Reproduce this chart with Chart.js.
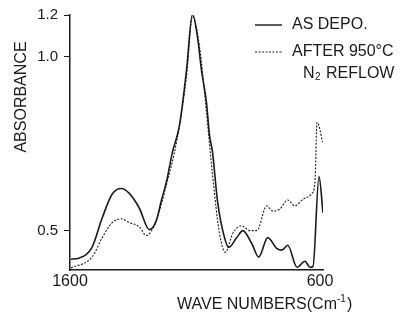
<!DOCTYPE html>
<html>
<head>
<meta charset="utf-8">
<script src="https://cdn.jsdelivr.net/npm/chart.js@4"></script>
<style>
	html, body { margin: 0; padding: 0; background: #fff; }
	#wrap { width: 406px; height: 320px; position: relative; }
</style>
</head>
<body>
<div id="wrap"><canvas id="chart"></canvas></div>
<script>
// values (wave number in cm-1, absorbance)
const asDepoWave = [1597, 1564, 1512, 1471, 1431, 1395, 1363, 1323, 1283, 1255, 1235, 1214, 1190, 1162, 1134, 1110, 1090, 1074, 1054, 1042, 1030, 1010, 982, 965, 933, 909, 873, 845, 809, 773, 753, 729, 692, 660, 640, 628, 604, 588]
const asDepoAbs = [0.418, 0.421, 0.452, 0.537, 0.605, 0.621, 0.607, 0.565, 0.503, 0.528, 0.585, 0.641, 0.726, 0.802, 0.96, 1.121, 1.056, 0.96, 0.867, 0.774, 0.726, 0.585, 0.48, 0.452, 0.48, 0.5, 0.463, 0.424, 0.48, 0.449, 0.444, 0.458, 0.395, 0.412, 0.395, 0.397, 0.655, 0.551]

const reflowWave = [1596, 1512, 1471, 1431, 1395, 1363, 1323, 1295, 1255, 1214, 1174, 1134, 1110, 1082, 1054, 1030, 1002, 978, 949, 913, 881, 853, 813, 789, 761, 729, 700, 668, 632, 620, 612, 604, 590]
const reflowAbs = [0.393, 0.424, 0.48, 0.523, 0.534, 0.523, 0.511, 0.486, 0.528, 0.633, 0.754, 0.944, 1.116, 1.028, 0.839, 0.661, 0.492, 0.438, 0.492, 0.514, 0.5, 0.5, 0.571, 0.556, 0.562, 0.588, 0.571, 0.59, 0.607, 0.64, 0.811, 0.8, 0.754]

const xTickValues = [1600, 600]
const xTickLabels = ['1600', '600']
const yTickValues = [0.5, 1.0, 1.119]
const yTickLabels = ['0.5', '1.0', '1.2']

const seriesNames = ['AS DEPO.', 'AFTER 950°C']

const toPoints = (xs, ys) => xs.map((x, i) => ({ x: x, y: ys[i] }))

const FONT = '"Liberation Sans", Arial, sans-serif'
const INK = '#1a1a1a'

// hand drawn style labels: legend and axis titles
const annotations = {
	id: 'annotations',
	afterDraw(chart) {
		const ctx = chart.ctx
		ctx.save()
		ctx.fillStyle = INK
		ctx.strokeStyle = INK
		ctx.font = '16px ' + FONT
		ctx.textBaseline = 'middle'

		// legend
		ctx.lineWidth = 1.4
		ctx.setLineDash([])
		ctx.beginPath()
		ctx.moveTo(255, 25)
		ctx.lineTo(282, 25)
		ctx.stroke()
		ctx.lineWidth = 1
		ctx.setLineDash([2, 1.5])
		ctx.beginPath()
		ctx.moveTo(255, 52)
		ctx.lineTo(282, 52)
		ctx.stroke()
		ctx.setLineDash([])
		ctx.fillText(seriesNames[0], 292, 25)
		ctx.fillText(seriesNames[1], 292, 52)
		ctx.fillText('N', 303, 74)
		ctx.font = '10px ' + FONT
		ctx.fillText('2', 315, 77)
		ctx.font = '16px ' + FONT
		ctx.fillText('REFLOW', 326, 74)

		// x title
		ctx.textAlign = 'left'
		const t = 'WAVE NUMBERS(Cm'
		ctx.fillText(t, 177, 305)
		const w = ctx.measureText(t).width
		ctx.font = '10px ' + FONT
		ctx.fillText('-1', 177 + w, 299)
		const w2 = ctx.measureText('-1').width
		ctx.font = '16px ' + FONT
		ctx.fillText(')', 177 + w + w2 + 1, 305)

		// y title
		ctx.translate(22, 97)
		ctx.rotate(-Math.PI / 2)
		ctx.textAlign = 'center'
		ctx.fillText('ABSORBANCE', 0, 0)
		ctx.restore()
	},
}

new Chart(document.getElementById('chart'), {
	type: 'line',
	data: {
		datasets: [
			{
				label: seriesNames[0],
				data: toPoints(asDepoWave, asDepoAbs),
				borderColor: INK,
				borderWidth: 1.6,
				pointRadius: 0,
				cubicInterpolationMode: 'monotone',
			},
			{
				label: seriesNames[1],
				data: toPoints(reflowWave, reflowAbs),
				borderColor: INK,
				borderWidth: 1.1,
				borderDash: [2, 1.5],
				pointRadius: 0,
				cubicInterpolationMode: 'monotone',
			},
		],
	},
	options: {
		responsive: true,
		maintainAspectRatio: false,
		animation: false,
		layout: { padding: { left: 0, right: 83, top: 11, bottom: 0 } },
		plugins: {
			legend: { display: false },
			tooltip: { enabled: false },
		},
		scales: {
			x: {
				type: 'linear',
				reverse: true,
				min: 588,
				max: 1600,
				afterBuildTicks: (scale) => {
					scale.ticks = xTickValues.map((v) => ({ value: v }))
				},
				afterFit: (scale) => {
					scale.height = 50
				},
				ticks: {
					autoSkip: false,
					maxRotation: 0,
					padding: 2,
					color: INK,
					font: { family: FONT, size: 16 },
					callback: (v) => xTickLabels[xTickValues.indexOf(v)],
				},
				grid: { display: false, drawTicks: false },
				border: { display: true, color: INK, width: 1.5 },
			},
			y: {
				type: 'linear',
				min: 0.387,
				max: 1.119,
				afterBuildTicks: (scale) => {
					scale.ticks = yTickValues.map((v) => ({ value: v }))
				},
				afterFit: (scale) => {
					scale.width = 70
				},
				ticks: {
					autoSkip: false,
					padding: 6,
					color: INK,
					font: { family: FONT, size: 15 },
					callback: (v) => yTickLabels[yTickValues.indexOf(v)],
				},
				grid: { drawOnChartArea: false, drawTicks: true, tickLength: 6, color: INK },
				border: { display: true, color: INK, width: 1.5 },
			},
		},
	},
	plugins: [annotations],
})
</script>
</body>
</html>
